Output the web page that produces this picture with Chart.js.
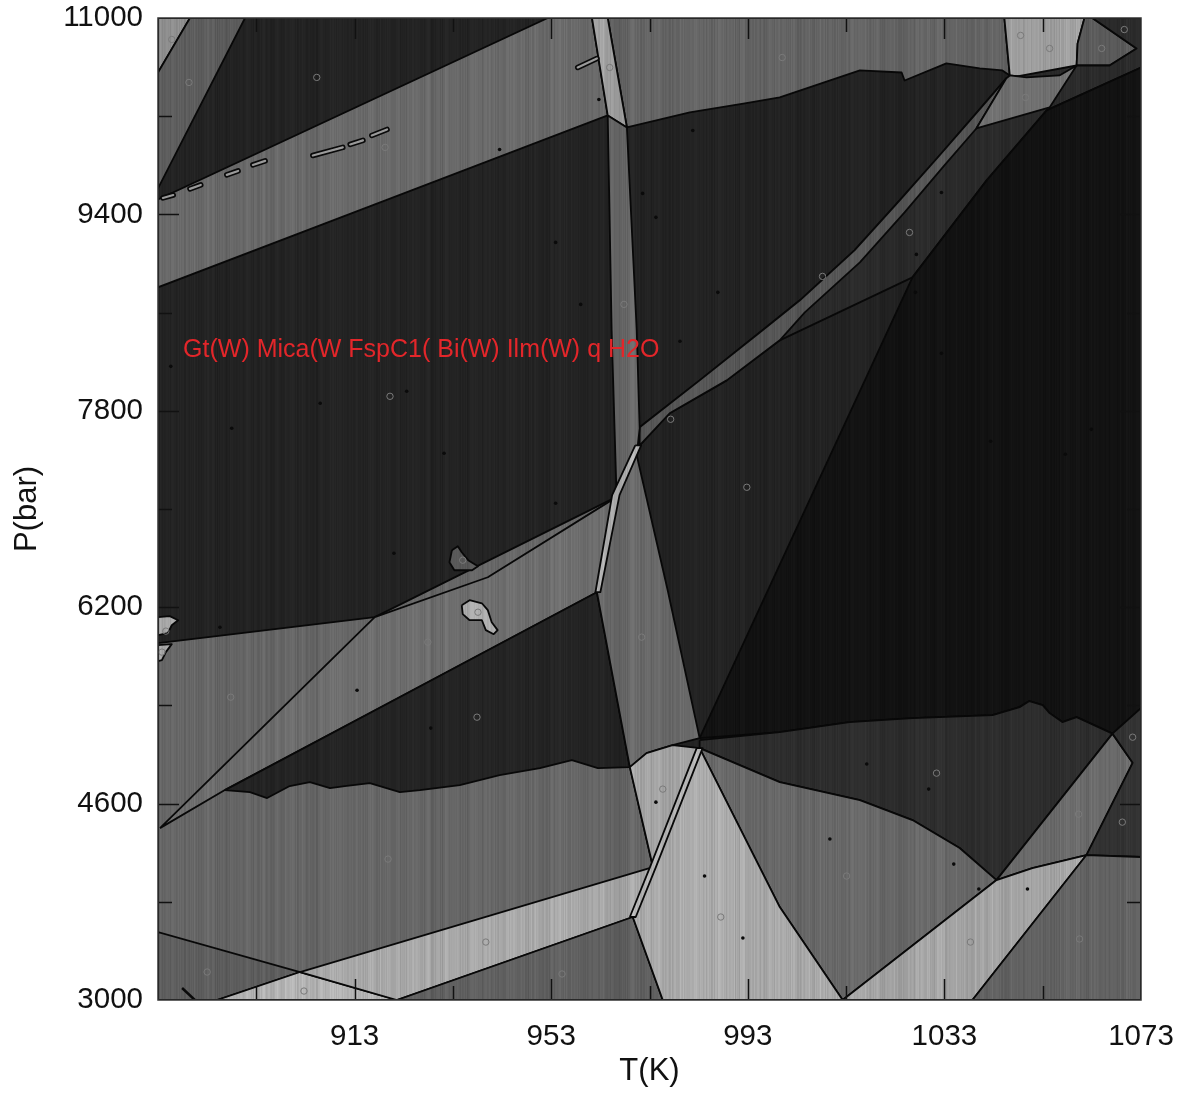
<!DOCTYPE html>
<html>
<head>
<meta charset="utf-8">
<title>P-T pseudosection</title>
<script src="https://cdn.jsdelivr.net/npm/chart.js@4.4.1/dist/chart.umd.min.js"></script>
<style>
  html, body { margin: 0; padding: 0; background: #fff; }
  #wrap { width: 1185px; height: 1095px; }
</style>
</head>
<body>
<div id="wrap"><canvas id="myChart" width="1185" height="1095"></canvas></div>
<script>
// tick labels (minor ticks every 20 K and 800 bar)
const tempLabels = [913, 953, 993, 1033, 1073];
const pressLabels = [3000, 4600, 6200, 7800, 9400, 11000];

// assemblage label and where it sits [T, P]
const fieldName = 'Gt(W) Mica(W FspC1( Bi(W) Ilm(W) q H2O';
const fieldNameAt = [878.1, 8293];

// phase fields as [T (K), P (bar)] outlines
const lowLeft = [[873,5907],[917.1,6119],[966.6,7105],[969.0,4897],[973.7,4083],[969.6,3676],[975.7,3000],[873,3000]];
const footLeft = [[873,3554],[901.9,3228],[885.0,3000],[873,3000]];
const footLight = [[885.0,3000],[901.9,3228],[921.6,3000]];
const lightBand = [[901.9,3228],[973.7,4083],[969.6,3676],[921.6,3000]];
const footMid = [[921.6,3000],[969.6,3676],[975.7,3000]];
const lowBand = [[873.4,4400],[917.1,6119],[940.1,6444],[966.6,7105],[962.3,6322],[922.2,5467],[886.6,4710]];
const darkWedge = [[886.6,4710],[962.3,6322],[969.0,4897],[962.5,4889],[957.2,4954],[950.7,4889],[942.5,4832],[934.4,4751],
  [926.3,4710],[922.2,4694],[916.1,4767],[911.0,4743],[908.0,4726],[903.9,4775],[899.8,4743],[895.2,4645],[891.7,4694]];

const topCorner = [[873,11000],[879.5,11000],[873,10556]];
const topStrip = [[879.5,11000],[890.7,11000],[873,9612],[873,10556]];
const upperBandW = [[873,9522],[952.3,11000],[961.3,11000],[964.5,10206],[922.2,9559],[873,8806]];
const upperBandE = [[964.5,11000],[1045.2,11000],[1046.3,10532],[1044.8,10573],[1040.2,10589],[1033.4,10630],[1024.9,10491],
  [1024.3,10556],[1015.8,10573],[999.5,10353],[992.4,10304],[981.2,10231],[968.4,10108]];
const lightNeck = [[961.3,11000],[964.5,11000],[968.4,10108],[964.5,10206]];
const lightCap = [[1045.2,11000],[1061.5,11000],[1060.1,10792],[1059.9,10613],[1056.4,10532],[1049.7,10516],[1046.3,10532]];
const capSide = [[1061.5,11000],[1063.1,11000],[1072.1,10752],[1066.6,10613],[1059.9,10613],[1060.1,10792]];

const darkRidge = [[971.0,7666],[983.2,8048],[996.0,8456],[1003.6,8700],[1014.7,9107],[1023.9,9514],[1032.0,9880],[1039.1,10206],
  [1045.6,10508],[1059.9,10613],[1066.6,10613],[1072.1,10752],[1063.1,11000],[1073,11000],[1073,10597],[1053.8,10247],
  [1041.6,9677],[1026.5,8887],[999.5,8374],[988.7,8048],[977.1,7780],[971.0,7519]];
const darkest = [[1073,10597],[1053.8,10247],[1041.6,9677],[1026.5,8887],[983.2,5133],[999.5,5182],[1013.7,5264],[1026.5,5296],
  [1042.8,5320],[1048.3,5386],[1050.3,5435],[1053.0,5402],[1054.4,5337],[1057.0,5264],[1059.9,5304],[1067.2,5170],[1073,5378]];
const diagBand = [[971.0,7666],[983.2,8048],[996.0,8456],[1003.6,8700],[1014.7,9107],[1023.9,9514],[1032.0,9880],[1039.1,10206],
  [1045.6,10508],[1039.5,10100],[1033.0,9799],[1024.9,9416],[1015.8,9009],[1004.6,8602],[999.5,8374],[988.7,8048],[977.1,7780],[971.0,7519]];
const capFoot = [[1046.3,10532],[1049.7,10516],[1056.4,10532],[1059.9,10613],[1054.4,10271],[1039.5,10100],[1045.6,10508]];

const darkShelf = [[983.2,5117],[999.5,5182],[1013.7,5264],[1026.5,5296],[1042.8,5320],[1048.3,5386],[1050.3,5435],[1053.0,5402],
  [1054.4,5337],[1057.0,5264],[1059.9,5304],[1067.2,5170],[1043.6,3977],[1036.1,4238],[1026.5,4466],[1015.8,4628],[999.5,4775],[983.2,5052]];
const midFan = [[983.2,5052],[999.5,4775],[1015.8,4628],[1026.5,4466],[1036.1,4238],[1043.6,3977],[1012.3,3000],[999.5,3757]];
const rightMid = [[1043.6,3977],[1067.2,5170],[1071.3,4932],[1061.9,4181],[1050.9,4075]];
const rightEdge = [[1067.2,5170],[1073,5378],[1073,4165],[1061.9,4181],[1071.3,4932]];
const rightLight = [[1012.3,3000],[1043.6,3977],[1050.9,4075],[1061.9,4181],[1038.7,3000]];
const rightFoot = [[1038.7,3000],[1061.9,4181],[1073,4165],[1073,3000]];

const stemWedge = [[964.5,10206],[968.4,10108],[970.4,8456],[971.0,7658],[970.4,7438],[976.7,6338],[983.2,5133],[977.7,5076],
  [972.4,5011],[969.0,4897],[962.3,6322],[966.3,7105],[965.9,7641],[965.3,8456]];
const lightKnee = [[969.0,4897],[972.4,5011],[977.7,5076],[983.2,5052],[973.7,4083]];
const lightFan = [[969.6,3676],[983.2,5052],[999.5,3757],[1012.3,3000],[975.7,3000]];
const sliverUp = [[970.1,7519],[971.3,7519],[966.9,7113],[963.0,6322],[962.0,6322],[965.4,7113]];
const sliverLow = [[969.0,3676],[973.1,4083],[982.6,5052],[983.8,5052],[974.3,4083],[970.2,3676]];

const blobEdgeA = [[873,6119],[875.4,6127],[877.1,6094],[875.8,6053],[875.0,5988],[873,5972]];
const blobEdgeB = [[873,5891],[875.8,5899],[874.6,5834],[873.8,5768],[873,5760]];
const blobLight = [[934.8,6216],[936.4,6257],[938.9,6232],[940.1,6176],[940.9,6078],[942.1,6013],[941.3,5980],[939.7,6013],
  [938.9,6094],[936.4,6094],[935.0,6143]];
const blobMid = [[932.8,6664],[934.0,6697],[934.8,6648],[936.1,6583],[938.1,6534],[936.9,6501],[933.3,6501],[932.3,6566]];

// small closed lenses along the upper band, [from, to]
const lenses = [
  [[874.0,9534],[876.1,9558]], [[879.5,9608],[881.7,9640]], [[887.0,9722],[889.3,9754]],
  [[892.3,9803],[894.8,9836]], [[904.5,9880],[910.6,9946]], [[912.1,9970],[914.7,10003]],
  [[916.5,10043],[919.6,10092]], [[958.4,10597],[962.3,10670]]
];
const strayLine = [[877.9,3098],[880.5,3000]];

// open circles (field markers) and black dots
const circlePts = [[875.8,10825],[879.3,10475],[905.3,10516],[919.2,9946],[964.9,10597],[967.8,8667],[1000.0,10678],
  [1048.5,10858],[1054.4,10752],[1065.0,10752],[1069.6,10906],[1049.5,10353],[1025.9,9253],[1008.2,8895],[920.2,7918],
  [977.3,7731],[992.8,7177],[935.0,6583],[938.1,6159],[927.9,5915],[971.4,5956],[887.8,5467],[919.8,4148],[883.0,3228],
  [902.7,3073],[937.9,5304],[939.7,3472],[955.2,3212],[975.7,4718],[987.5,3676],[1031.4,4848],[1013.1,4010],[1060.3,4514],
  [1069.2,4449],[1071.3,5141],[1038.3,3472],[1060.5,3497],[874.6,6005],[873.8,5834]];
const dotPts = [[942.5,9929],[962.7,10336],[953.9,9172],[959.0,8667],[971.6,9571],[974.3,9376],[981.8,10084],[986.9,8765],
  [979.2,8366],[1032.4,9579],[1027.3,9074],[1027.1,8765],[875.6,8162],[888.0,7658],[906.0,7861],[921.0,6640],[931.2,7454],
  [953.9,7047],[923.6,7959],[1032.4,8268],[1042.4,7552],[1057.6,7446],[1062.9,7649],[974.3,4612],[984.2,4010],[992.0,3505],
  [928.5,5215],[1017.2,4922],[1009.7,4311],[1029.8,4718],[1034.9,4107],[1040.0,3904],[1049.9,3904],[913.5,5524],[885.6,6037]];

Chart.defaults.font.family = '"Liberation Sans", Arial, sans-serif';

// vertical grain like the scanned raster
function grain(x) {
  const h = n => { const s = Math.sin(n * 12.9898) * 43758.5453; return s - Math.floor(s) - 0.5; };
  return 1.2 * h(x) + 0.8 * h(Math.floor(x / 5) + 1000);
}
function stripes(gray) {
  const c = document.createElement('canvas');
  c.width = 1185; c.height = 1;
  const g = c.getContext('2d');
  const img = g.createImageData(1185, 1);
  const amp = 3 + gray * 0.08;
  for (let x = 0; x < 1185; x++) {
    const v = Math.max(0, Math.min(255, Math.round(gray + amp * grain(x))));
    img.data[x * 4] = img.data[x * 4 + 1] = img.data[x * 4 + 2] = v;
    img.data[x * 4 + 3] = 255;
  }
  g.putImageData(img, 0, 0);
  return g.createPattern(c, 'repeat');
}

// bottom to top
const fields = [
  [lowLeft, 101], [footLeft, 93], [footLight, 178], [lightBand, 166], [footMid, 95], [lowBand, 108], [darkWedge, 35],
  [topCorner, 140], [topStrip, 92], [upperBandW, 104], [upperBandE, 100], [lightNeck, 160], [lightCap, 158], [capSide, 90],
  [darkRidge, 42], [darkest, 18], [diagBand, 86], [capFoot, 112],
  [darkShelf, 45], [midFan, 104], [rightMid, 106], [rightEdge, 50], [rightLight, 164], [rightFoot, 98],
  [stemWedge, 104], [lightKnee, 164], [lightFan, 170], [sliverUp, 175], [sliverLow, 180],
  [blobEdgeA, 165], [blobEdgeB, 165], [blobLight, 170], [blobMid, 88]
];

const polyDatasets = fields.map(([pts, gray]) => ({
  data: pts.concat([pts[0]]).map(([x, y]) => ({x, y})),
  fill: 'shape',
  backgroundColor: stripes(gray),
  borderColor: '#080808',
  borderWidth: 1.8,
  borderJoinStyle: 'round',
  pointRadius: 0,
  tension: 0
}));

const lensData = [];
lenses.forEach(seg => { seg.forEach(([x, y]) => lensData.push({x, y})); lensData.push({x: null, y: null}); });

const topDatasets = [
  { data: circlePts.map(([x, y]) => ({x, y})), showLine: false, pointRadius: 3.2, pointBorderWidth: 1,
    pointBorderColor: '#7a7a7a', pointBackgroundColor: 'rgba(0,0,0,0)' },
  { data: dotPts.map(([x, y]) => ({x, y})), showLine: false, pointRadius: 1.8, pointBorderWidth: 0,
    pointBackgroundColor: '#0a0a0a' },
  { data: lensData, borderColor: '#9a9a9a', borderWidth: 2.2, borderCapStyle: 'round', pointRadius: 0, spanGaps: false },
  { data: lensData, borderColor: '#0a0a0a', borderWidth: 5.5, borderCapStyle: 'round', pointRadius: 0, spanGaps: false },
  { data: strayLine.map(([x, y]) => ({x, y})), borderColor: '#0a0a0a', borderWidth: 2.5, pointRadius: 0 }
];

const frameAndTicks = {
  id: 'frameAndTicks',
  beforeDatasetsDraw(chart) {
    const {ctx, chartArea: a} = chart;
    ctx.save();
    ctx.fillStyle = stripes(34);
    ctx.fillRect(a.left, a.top, a.width, a.height);
    ctx.restore();
  },
  afterDatasetsDraw(chart) {
    const {ctx, scales: {x, y}} = chart;
    ctx.save();
    ctx.font = '25px "Liberation Sans", Arial, sans-serif';
    ctx.fillStyle = '#e3262a';
    ctx.textBaseline = 'middle';
    ctx.fillText(fieldName, x.getPixelForValue(fieldNameAt[0]), y.getPixelForValue(fieldNameAt[1]));
    ctx.restore();
  },
  afterDraw(chart) {
    const {ctx, chartArea: a, scales: {x, y}} = chart;
    ctx.save();
    ctx.strokeStyle = '#111';
    ctx.lineWidth = 1.5;
    ctx.beginPath();
    x.ticks.forEach(t => {
      if (t.value <= x.min || t.value >= x.max) return;
      const px = Math.round(x.getPixelForValue(t.value)) + 0.5;
      const len = t.label ? 21 : 14;
      ctx.moveTo(px, a.bottom); ctx.lineTo(px, a.bottom - len);
      ctx.moveTo(px, a.top); ctx.lineTo(px, a.top + len);
    });
    y.ticks.forEach(t => {
      if (t.value <= y.min || t.value >= y.max) return;
      const py = Math.round(y.getPixelForValue(t.value)) + 0.5;
      const len = t.label ? 21 : 14;
      ctx.moveTo(a.left, py); ctx.lineTo(a.left + len, py);
      ctx.moveTo(a.right, py); ctx.lineTo(a.right - len, py);
    });
    ctx.stroke();
    ctx.strokeStyle = '#333';
    ctx.strokeRect(a.left, a.top, a.width, a.height);
    ctx.restore();
  }
};

const ctx = document.getElementById('myChart');
const myChart = new Chart(ctx, {
  type: 'line',
  data: { datasets: topDatasets.concat(polyDatasets.slice().reverse()) },
  options: {
    responsive: false,
    devicePixelRatio: 1,
    animation: false,
    events: [],
    layout: { padding: { left: 0, top: 18, right: 44, bottom: 0 } },
    plugins: { legend: { display: false }, tooltip: { enabled: false } },
    scales: {
      x: {
        type: 'linear', min: 873, max: 1073,
        grid: { display: false, drawTicks: false },
        border: { display: false },
        ticks: {
          stepSize: 20, autoSkip: false, maxRotation: 0, padding: 19,
          color: '#111', font: { size: 29.5 },
          callback: v => tempLabels.includes(v) ? String(v) : ''
        },
        title: { display: true, text: 'T(K)', color: '#111', font: { size: 31 }, padding: { top: 0, bottom: 5 } },
        afterFit: s => { s.height = 95; s.paddingLeft = 0; s.paddingRight = 0; }
      },
      y: {
        type: 'linear', min: 3000, max: 11000,
        grid: { display: false, drawTicks: false },
        border: { display: false },
        ticks: {
          stepSize: 800, autoSkip: false, padding: 15,
          color: '#111', font: { size: 29.5 },
          callback: v => pressLabels.includes(v) ? String(v) : ''
        },
        title: { display: true, text: 'P(bar)', color: '#111', font: { size: 31 }, padding: { top: 9, bottom: 0 } },
        afterFit: s => { s.width = 158; s.paddingTop = 0; s.paddingBottom = 0; }
      }
    }
  },
  plugins: [frameAndTicks]
});
</script>
</body>
</html>
